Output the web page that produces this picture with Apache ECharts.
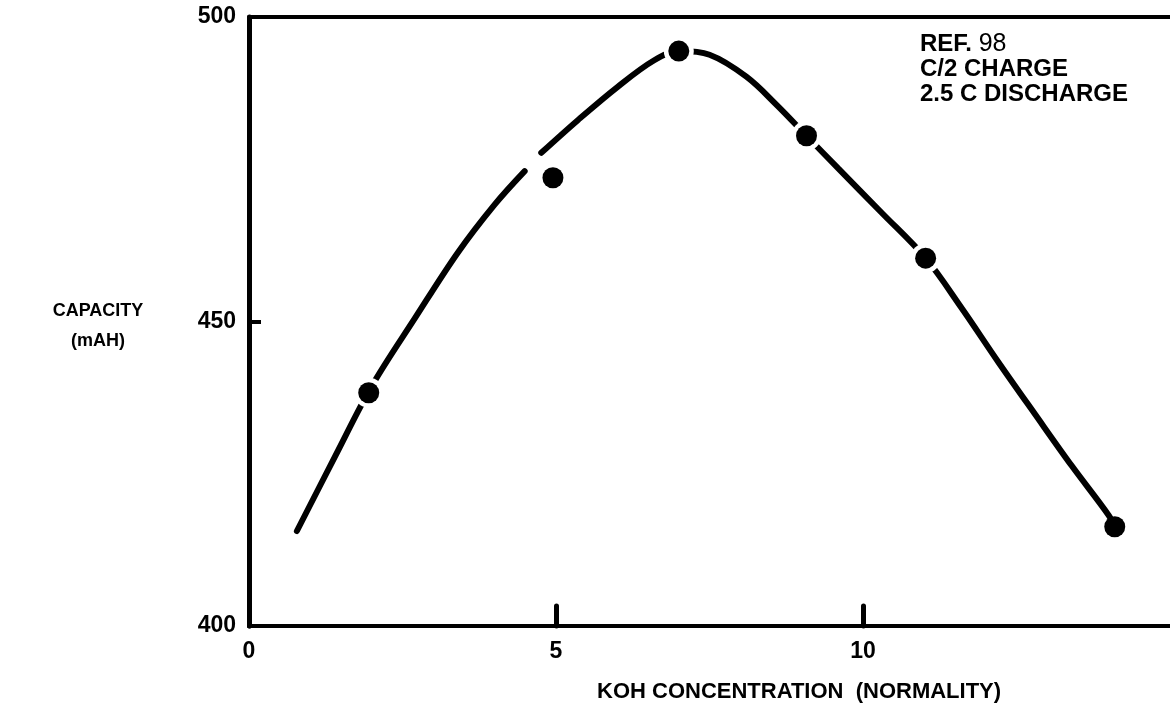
<!DOCTYPE html>
<html>
<head>
<meta charset="utf-8">
<script src="https://cdn.jsdelivr.net/npm/echarts@6/dist/echarts.min.js"></script>
<style>
  html, body { margin: 0; padding: 0; background: #fff; }
  #chart { width: 1170px; height: 711px; }
</style>
</head>
<body>
<div id="chart"></div>
<script>
  // measured points (KOH normality, capacity mAH)
  const koh = [1.95, 4.95, 7.0, 9.08, 11.02, 14.1]
  const capacity = [438.3, 473.6, 494.4, 480.5, 460.4, 416.3]

  // hand-drawn fitted curve; '-' marks the break near 5 N
  const curveX = [0.78, 1.4, 2.0, 2.7, 3.4, 4.0, 4.49, 4.62, 4.76, 5.36, 6.0, 6.6, 7.0, 7.5, 8.1, 8.6, 9.08, 9.6, 10.3, 11.02, 11.6, 12.2, 12.8, 13.4, 14.0, 14.1]
  const curveY = [415.6, 427.8, 439.4, 450.5, 461.3, 469.2, 474.7, '-', 477.7, 483.1, 488.5, 492.9, 494.4, 493.8, 490.2, 485.5, 480.5, 475.1, 467.9, 460.4, 452.3, 443.4, 434.8, 426.3, 418.2, 416.3]

  const xTicks = [0, 5, 10]
  const yTicks = [400, 450, 500]

  const font = "'Liberation Sans', Arial, sans-serif"

  const points = koh.map((x, i) => [x, capacity[i]])
  const curve = curveX.map((x, i) => [x, curveY[i]])
  // white cut round the points that sit on the curve (not the last one)
  const halo = [0, 2, 3, 4].map((i) => points[i])

  const labelStyle = {
    color: '#000',
    fontFamily: font,
    fontWeight: 'bold',
    fontSize: 23,
  }

  const options = {
    animation: false,
    backgroundColor: '#fff',
    grid: {
      left: 249,
      top: 17,
      width: 925,
      height: 609,
    },
    xAxis: [
      {
        type: 'value',
        min: xTicks[0],
        max: 15,
        interval: 5,
        splitLine: { show: false },
        axisLine: { lineStyle: { color: '#000', width: 4 } },
        axisTick: {
          inside: true,
          length: 20,
          lineStyle: { color: '#000', width: 5, cap: 'round' },
        },
        axisLabel: Object.assign({ showMaxLabel: false, margin: 14 }, labelStyle),
      },
      {
        // top frame line only
        type: 'value',
        position: 'top',
        min: xTicks[0],
        max: 15,
        splitLine: { show: false },
        axisLine: { lineStyle: { color: '#000', width: 4 } },
        axisTick: { show: false },
        axisLabel: { show: false },
      },
    ],
    yAxis: {
      type: 'value',
      min: yTicks[0],
      max: yTicks[yTicks.length - 1],
      interval: 50,
      splitLine: { show: false },
      axisLine: { lineStyle: { color: '#000', width: 5 } },
      axisTick: {
        inside: true,
        length: 12,
        lineStyle: { color: '#000', width: 4 },
      },
      axisLabel: Object.assign({ margin: 13 }, labelStyle),
    },
    graphic: [
      {
        type: 'text',
        x: 98,
        y: 326,
        style: {
          text: 'CAPACITY\n(mAH)',
          fill: '#000',
          font: 'bold 18px ' + font,
          lineHeight: 30,
          align: 'center',
          verticalAlign: 'middle',
        },
      },
      {
        type: 'text',
        left: 597,
        top: 681,
        style: {
          text: 'KOH CONCENTRATION  (NORMALITY)',
          fill: '#000',
          font: 'bold 22px ' + font,
        },
      },
      {
        type: 'text',
        left: 920,
        top: 32,
        style: {
          text: '{b|REF.}  {n|98}\n{b|C/2 CHARGE}\n{b|2.5 C DISCHARGE}',
          rich: {
            b: { fill: '#000', font: 'bold 24px ' + font, lineHeight: 25 },
            n: { fill: '#000', font: '25px ' + font, lineHeight: 25 },
          },
        },
      },
    ],
    series: [
      {
        type: 'line',
        data: curve,
        smooth: 0.35,
        showSymbol: false,
        silent: true,
        z: 2,
        lineStyle: { color: '#000', width: 6, cap: 'round' },
      },
      {
        type: 'scatter',
        data: halo,
        symbolSize: 30,
        silent: true,
        z: 3,
        itemStyle: { color: '#fff', opacity: 1 },
      },
      {
        type: 'scatter',
        data: points,
        symbolSize: 21,
        z: 4,
        itemStyle: { color: '#000', opacity: 1 },
      },
    ],
  }

  const chart = echarts.init(document.getElementById('chart'))
  chart.setOption(options)
  window.addEventListener('resize', function () {
    chart && chart.resize()
  })
</script>
</body>
</html>
